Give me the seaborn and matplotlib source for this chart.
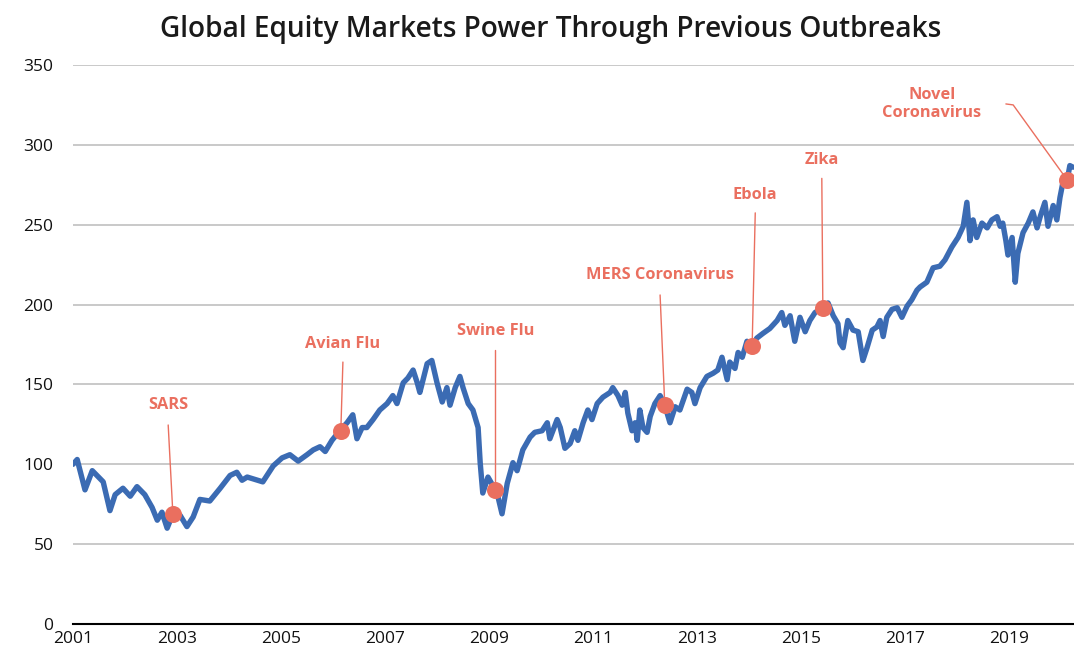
import seaborn as sns
import matplotlib.pyplot as plt
import pandas as pd

# index level (decimal year, value)
years = [2001.00, 2001.08, 2001.23, 2001.37, 2001.58, 2001.71, 2001.81, 2001.96,
         2002.10, 2002.23, 2002.38, 2002.52, 2002.62, 2002.71, 2002.81, 2002.92,
         2003.06, 2003.19, 2003.31, 2003.44, 2003.63, 2003.83, 2004.02, 2004.15,
         2004.25, 2004.35, 2004.65, 2004.85, 2005.02, 2005.17, 2005.33, 2005.50,
         2005.62, 2005.75, 2005.85, 2005.98, 2006.13, 2006.27, 2006.38, 2006.46,
         2006.56, 2006.65, 2006.77, 2006.90, 2007.04, 2007.15, 2007.23, 2007.35,
         2007.44, 2007.54, 2007.62, 2007.67, 2007.81, 2007.90, 2008.00, 2008.10,
         2008.19, 2008.25, 2008.35, 2008.44, 2008.50, 2008.60, 2008.69, 2008.79,
         2008.83, 2008.88, 2008.98, 2009.12, 2009.17, 2009.25, 2009.35, 2009.46,
         2009.54, 2009.65, 2009.79, 2009.88, 2010.02, 2010.12, 2010.17, 2010.31,
         2010.37, 2010.46, 2010.56, 2010.65, 2010.71, 2010.81, 2010.90, 2010.98,
         2011.08, 2011.19, 2011.33, 2011.38, 2011.48, 2011.56, 2011.62, 2011.67,
         2011.75, 2011.81, 2011.85, 2011.90, 2011.96, 2012.04, 2012.10, 2012.19,
         2012.29, 2012.38, 2012.48, 2012.58, 2012.67, 2012.81, 2012.90, 2012.96,
         2013.06, 2013.19, 2013.31, 2013.40, 2013.48, 2013.58, 2013.63, 2013.73,
         2013.79, 2013.87, 2013.96, 2014.06, 2014.15, 2014.27, 2014.40, 2014.54,
         2014.63, 2014.69, 2014.79, 2014.88, 2014.98, 2015.08, 2015.17, 2015.27,
         2015.42, 2015.52, 2015.62, 2015.71, 2015.75, 2015.81, 2015.90, 2016.00,
         2016.10, 2016.19, 2016.27, 2016.37, 2016.46, 2016.52, 2016.58, 2016.65,
         2016.75, 2016.85, 2016.94, 2017.04, 2017.13, 2017.23, 2017.29, 2017.42,
         2017.54, 2017.67, 2017.77, 2017.90, 2018.02, 2018.12, 2018.19, 2018.25,
         2018.31, 2018.38, 2018.48, 2018.58, 2018.67, 2018.77, 2018.83, 2018.88,
         2018.94, 2018.98, 2019.06, 2019.12, 2019.17, 2019.27, 2019.37, 2019.46,
         2019.54, 2019.60, 2019.69, 2019.75, 2019.85, 2019.92, 2019.98, 2020.04,
         2020.12, 2020.17, 2020.23]
values = [100, 103, 84, 96, 89, 71, 81, 85,
          80, 86, 81, 73, 65, 70, 60, 69,
          68, 61, 67, 78, 77, 85, 93, 95,
          90, 92, 89, 99, 104, 106, 102, 106,
          109, 111, 108, 115, 121, 126, 131, 116,
          123, 123, 128, 134, 138, 143, 138, 151,
          154, 159, 151, 145, 163, 165, 151, 139,
          148, 137, 148, 155, 148, 138, 134, 123,
          101, 82, 92, 84, 80, 69, 88, 101,
          96, 109, 117, 120, 121, 126, 116, 128,
          123, 110, 113, 121, 115, 126, 134, 128,
          138, 142, 145, 148, 143, 137, 145, 132,
          121, 126, 115, 134, 123, 120, 130, 138,
          143, 137, 126, 136, 134, 147, 145, 138,
          148, 155, 157, 159, 167, 153, 164, 160,
          170, 167, 177, 174, 179, 182, 185, 190,
          195, 187, 193, 177, 192, 183, 190, 195,
          198, 201, 193, 188, 176, 173, 190, 184,
          183, 165, 173, 184, 186, 190, 180, 192,
          197, 198, 192, 199, 203, 209, 211, 214,
          223, 224, 228, 236, 242, 249, 264, 240,
          253, 242, 251, 248, 253, 255, 249, 251,
          240, 231, 242, 214, 232, 245, 251, 258,
          248, 255, 264, 249, 262, 253, 267, 277,
          278, 287, 286]

# outbreaks
events = ['SARS', 'Avian Flu', 'Swine Flu', 'MERS Coronavirus', 'Ebola', 'Zika', 'Novel\nCoronavirus']
event_years = [2002.92, 2006.15, 2009.12, 2012.38, 2014.06, 2015.42, 2020.12]
event_values = [69, 121, 84, 137, 174, 198, 278]

tick_years = [2001, 2003, 2005, 2007, 2009, 2011, 2013, 2015, 2017, 2019]

df = pd.DataFrame({'year': years, 'value': values})

blue = '#3b6bb3'
salmon = '#ea6f5f'

sns.set_style('white')
plt.rcParams['font.family'] = ['Open Sans', 'DejaVu Sans']

fig = plt.figure(figsize=(10.74, 6.53), dpi=100)
ax = fig.add_axes([0.068, 0.0444, 0.932, 0.8561])

sns.lineplot(data=df, x='year', y='value', color=blue, linewidth=3.9, ax=ax, zorder=3)

# label placement (text centre, top of leader line)
label_pos = [(2002.83, 137, 124.6), (2006.19, 175, 164), (2009.12, 183.5, 171.6),
             (2012.29, 218.5, 206), (2014.12, 268.6, 257.4), (2015.40, 290.5, 279)]
for name, ex, ey, (tx, ty, ly) in zip(events[:-1], event_years[:-1], event_values[:-1], label_pos):
    ax.text(tx, ty, name, color=salmon, fontsize=11.8, fontweight='bold', ha='center', va='center')
    ax.plot([tx, ex], [ly, ey], color=salmon, linewidth=1, zorder=2)

# novel coronavirus, elbow leader
ax.text(2017.52, 325.5, events[-1], color=salmon, fontsize=11.8, fontweight='bold',
        ha='center', va='center', linespacing=1.2)
ax.plot([2018.94, 2019.08, event_years[-1]], [325.6, 325, event_values[-1]],
        color=salmon, linewidth=1, zorder=2)

ax.scatter(event_years, event_values, s=150, color=salmon, zorder=4, linewidths=0)

ax.set_xlim(2001, 2020.25)
ax.set_ylim(0, 350)
ax.set_yticks(range(0, 351, 50))
ax.set_xticks(tick_years)
ax.set_xticklabels([str(y) for y in tick_years])
ax.grid(axis='y', color='#c9c9c9', linewidth=1.4)
ax.set_axisbelow(True)
for s in ['top', 'right', 'left']:
    ax.spines[s].set_visible(False)
ax.spines['bottom'].set_color('black')
ax.spines['bottom'].set_linewidth(1.5)
ax.tick_params(axis='both', length=0, labelsize=12.5, colors='#111111')
ax.tick_params(axis='y', pad=14)
ax.tick_params(axis='x', pad=5)
ax.set_xlabel('')
ax.set_ylabel('')

fig.text(0.513, 0.955, 'Global Equity Markets Power Through Previous Outbreaks',
         ha='center', va='center', fontsize=20.2, fontweight='semibold', color='#1a1a1a')

fig.savefig('out.png', dpi=100)
